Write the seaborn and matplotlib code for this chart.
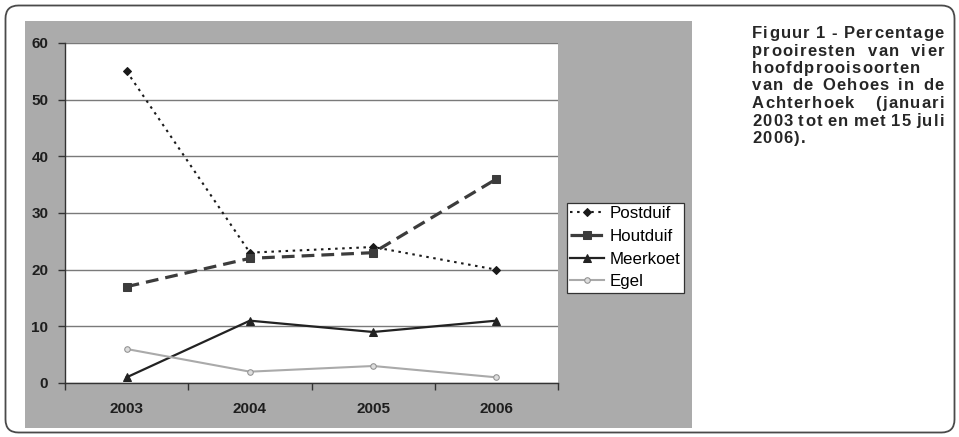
"""
Percentage prooiresten van vier hoofdprooisoorten (Oehoe, Achterhoek)
"""

import matplotlib
matplotlib.use("Agg")
import matplotlib.pyplot as plt
import seaborn as sns
import pandas as pd
from matplotlib.patches import FancyBboxPatch, Rectangle
from matplotlib.font_manager import FontProperties, findfont
from matplotlib.ft2font import FT2Font

years = [2003, 2004, 2005, 2006]
postduif = [55, 23, 24, 20]
houtduif = [17, 22, 23, 36]
meerkoet = [1, 11, 9, 11]
egel = [6, 2, 3, 1]
y_ticks = [0, 10, 20, 30, 40, 50, 60]

caption_lines = [
    "Figuur 1 - Percentage",
    "prooiresten van vier",
    "hoofdprooisoorten",
    "van de Oehoes in de",
    "Achterhoek (januari",
    "2003 tot en met 15 juli",
    "2006).",
]

df = pd.DataFrame({"jaar": years, "Postduif": postduif, "Houtduif": houtduif,
                   "Meerkoet": meerkoet, "Egel": egel})

W, H = 959, 437
fig = plt.figure(figsize=(W / 100, H / 100), dpi=100)
fig.patch.set_facecolor("white")

# outer rounded frame and grey chart area (in inches), behind the axes
frame = FancyBboxPatch((0.055, 0.045), 9.49, 4.27, boxstyle="round,pad=0,rounding_size=0.13",
                       transform=fig.dpi_scale_trans, facecolor="white", edgecolor="#4a4a4a",
                       linewidth=1.3, zorder=-3)
fig.patches.append(frame)
grey = Rectangle((0.25, 0.09), 6.67, 4.07, transform=fig.dpi_scale_trans,
                 facecolor="#ababab", edgecolor="none", zorder=-2)
fig.patches.append(grey)

ax = fig.add_axes([65 / W, (H - 383) / H, 493 / W, 340 / H])
ax.set_facecolor("white")

styles = {
    "Postduif": dict(color="#1a1a1a", linestyle=(0, (1.2, 2.2)), linewidth=1.5, marker="D",
                     markersize=4.5, markeredgecolor="#1a1a1a"),
    "Houtduif": dict(color="#3c3c3c", linestyle=(0, (4, 2.2)), linewidth=2.3, marker="s",
                     markersize=6, markeredgecolor="#3c3c3c"),
    "Meerkoet": dict(color="#222222", linestyle="-", linewidth=1.6, marker="^",
                     markersize=6, markeredgecolor="#222222"),
    "Egel": dict(color="#aaaaaa", linestyle="-", linewidth=1.5, marker="o",
                 markersize=4, markerfacecolor="#dddddd", markeredgecolor="#909090"),
}

for name, kw in styles.items():
    sns.lineplot(data=df, x="jaar", y=name, ax=ax, label=name, zorder=3, **kw)

ax.set_xlim(years[0] - 0.5, years[-1] + 0.5)
ax.set_ylim(0, 60)
ax.set_yticks(y_ticks)
ax.yaxis.grid(True, color="#7a7a7a", linewidth=1.0)
ax.set_axisbelow(True)

# Excel-like category axis: tick marks between categories, labels centred
ax.set_xticks([y - 0.5 for y in years] + [years[-1] + 0.5])
ax.set_xticklabels([])
ax.set_xticks(years, minor=True)
ax.set_xticklabels([str(y) for y in years], minor=True, fontsize=11, fontweight="bold",
                   family="Liberation Sans", color="#1e1e1e")
ax.tick_params(axis="x", which="major", length=5, width=1, color="#333333", direction="out")
ax.tick_params(axis="x", which="minor", length=0, pad=14)
ax.tick_params(axis="y", length=5, width=1, color="#333333", direction="out", pad=7)
for lab in ax.get_yticklabels():
    lab.set_fontsize(11)
    lab.set_fontweight("bold")
    lab.set_family("Liberation Sans")
    lab.set_color("#1e1e1e")

for side in ["top", "right"]:
    ax.spines[side].set_visible(False)
for side in ["left", "bottom"]:
    ax.spines[side].set_color("#333333")
    ax.spines[side].set_linewidth(1.0)
ax.set_xlabel("")
ax.set_ylabel("")

leg = ax.legend(loc="upper left", bbox_to_anchor=(567 / W, 1 - 203 / H), bbox_transform=fig.transFigure,
                frameon=True, fancybox=False, handlelength=2.0, handletextpad=0.3,
                borderpad=0.2, labelspacing=0.45, borderaxespad=0,
                prop=FontProperties(family="Liberation Sans", size=12.2))
leg.get_frame().set_edgecolor("#333333")
leg.get_frame().set_linewidth(0.9)
leg.get_frame().set_facecolor("white")
leg.get_frame().set_alpha(1)

# justified, slightly tracked caption set char by char
cap_size = 12
cap_prop = FontProperties(family="Liberation Sans", weight="bold", size=cap_size)
ft = FT2Font(findfont(cap_prop))
ft.set_size(cap_size, 100)


def adv(c):
    return ft.load_char(ord(c)).linearHoriAdvance / 65536.0


track = 1.2
x_left, x_right = 752, 944
base0, step = 38, 17.5
for i, line in enumerate(caption_lines):
    words = line.split(" ")
    wl = [sum(adv(c) for c in w) + track * (len(w) - 1) for w in words]
    gap = adv(" ") + 2 * track
    if len(words) > 1 and i < len(caption_lines) - 1:
        gap = (x_right - x_left - sum(wl)) / (len(words) - 1)
    x = x_left
    yb = base0 + step * i
    for w, wlen in zip(words, wl):
        xc = x
        for c in w:
            fig.text(xc / W, 1 - yb / H, c, fontproperties=cap_prop, ha="left", va="baseline",
                     color="#262626")
            xc += adv(c) + track
        x += wlen + gap

fig.savefig("out.png", dpi=100)
